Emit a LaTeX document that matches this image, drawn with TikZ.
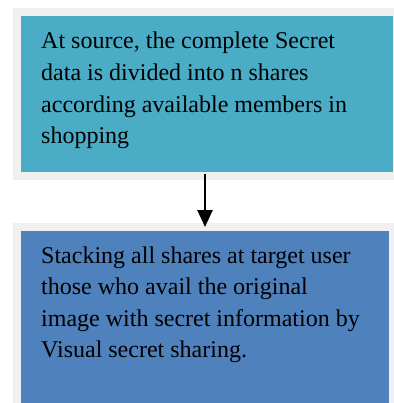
\documentclass[tikz,border=0pt]{standalone}
\usepackage{fontspec}
\setmainfont{Liberation Serif}
\usetikzlibrary{arrows.meta}
\definecolor{srcteal}{HTML}{4BACC6}
\definecolor{tgtblue}{HTML}{4F81BD}
\definecolor{framegray}{HTML}{F0F0F0}

\begin{document}
\begin{tikzpicture}[x=1pt, y=-1pt,
	box/.style={draw=framegray, line width=8pt, anchor=north west,
		inner sep=0, outer sep=0},
	txt/.style={anchor=north west, inner sep=0, align=left,
		font=\fontsize{24}{31.6}\selectfont}]
\useasboundingbox (0,0) rectangle (393,403);
\node[box, fill=srcteal, minimum width=380pt, minimum height=164pt]
	(source) at (17,12) {};
\node[box, fill=tgtblue, minimum width=376pt, minimum height=183pt]
	(target) at (17,227) {};
\node[txt] (sourcetext) at (41,32) {At source, the complete Secret\\
	data is divided into n shares\\
	according available members in\\
	shopping};
\node[txt] (targettext) at (41,246.3) {Stacking all shares at target user\\
	those who avail the original\\
	image with secret information by\\
	Visual secret sharing.};
\draw[-{Triangle[length=17pt,width=15pt]}, line width=2.6pt]
	([yshift=2pt]source.south -| target.north) -- (target.north);
\end{tikzpicture}
\end{document}
